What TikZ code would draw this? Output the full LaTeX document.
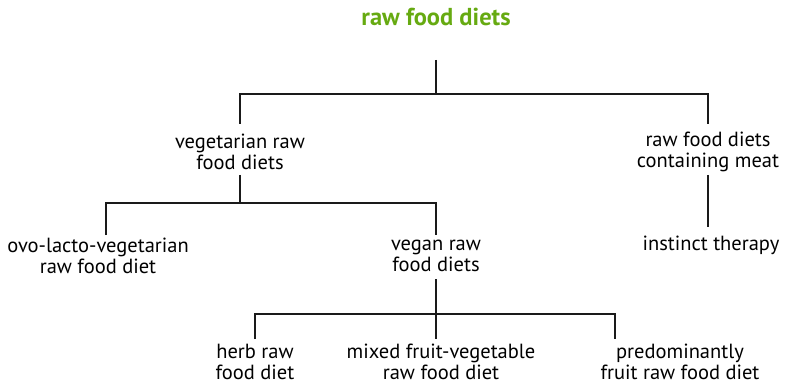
\documentclass[tikz,border=0pt]{standalone}
\usepackage{fontspec}
\setmainfont{PT Sans}
\definecolor{titlegreen}{HTML}{66AA11}
\definecolor{linegray}{HTML}{1A1A1A}
\begin{document}
\begin{tikzpicture}[x=1pt,y=-1pt,
  lbl/.style={align=center,inner sep=0pt,font=\fontsize{20.5}{21.5}\selectfont,text=black},
  ttl/.style={inner sep=0pt,font=\fontsize{24.5}{28}\selectfont\bfseries,text=titlegreen},
  conn/.style={draw=linegray,line width=1.8pt}]
\useasboundingbox (0,0) rectangle (785,385);
\node[ttl] (root) at (436,17) {raw food diets};
\node[lbl] (veg) at (240,152) {vegetarian raw\\food diets};
\node[lbl] (meat) at (708,152) {raw food diets\\containing meat};
\node[lbl] (ovo) at (98,256) {ovo-lacto-vegetarian\\raw food diet};
\node[lbl] (vegan) at (436,256) {vegan raw\\food diets};
\node[lbl] (inst) at (711,245) {instinct therapy};
\node[lbl] (herb) at (255,362) {herb raw\\food diet};
\node[lbl] (mixed) at (441,362) {mixed fruit-vegetable\\raw food diet};
\node[lbl] (pred) at (680,362) {predominantly\\fruit raw food diet};
\coordinate (j1) at (436,94);
\coordinate (j2) at (240,203);
\coordinate (j3) at (436,314);
\draw[conn] (root |- 0,60) -- (j1);
\draw[conn] (veg |- 0,124) |- (j1) -| (meat |- 0,124);
\draw[conn] (veg |- 0,175) -- (j2);
\draw[conn] ([xshift=8pt]ovo.north |- 0,235) |- (j2) -| (vegan |- 0,235);
\draw[conn] (meat |- 0,175) -- (meat |- 0,227);
\draw[conn] (vegan |- 0,279) -- (j3);
\draw[conn] (herb |- 0,339) |- (j3) -| ([xshift=-65pt]pred.north |- 0,339);
\draw[conn] (j3) -- (vegan |- 0,339);
\end{tikzpicture}
\end{document}
